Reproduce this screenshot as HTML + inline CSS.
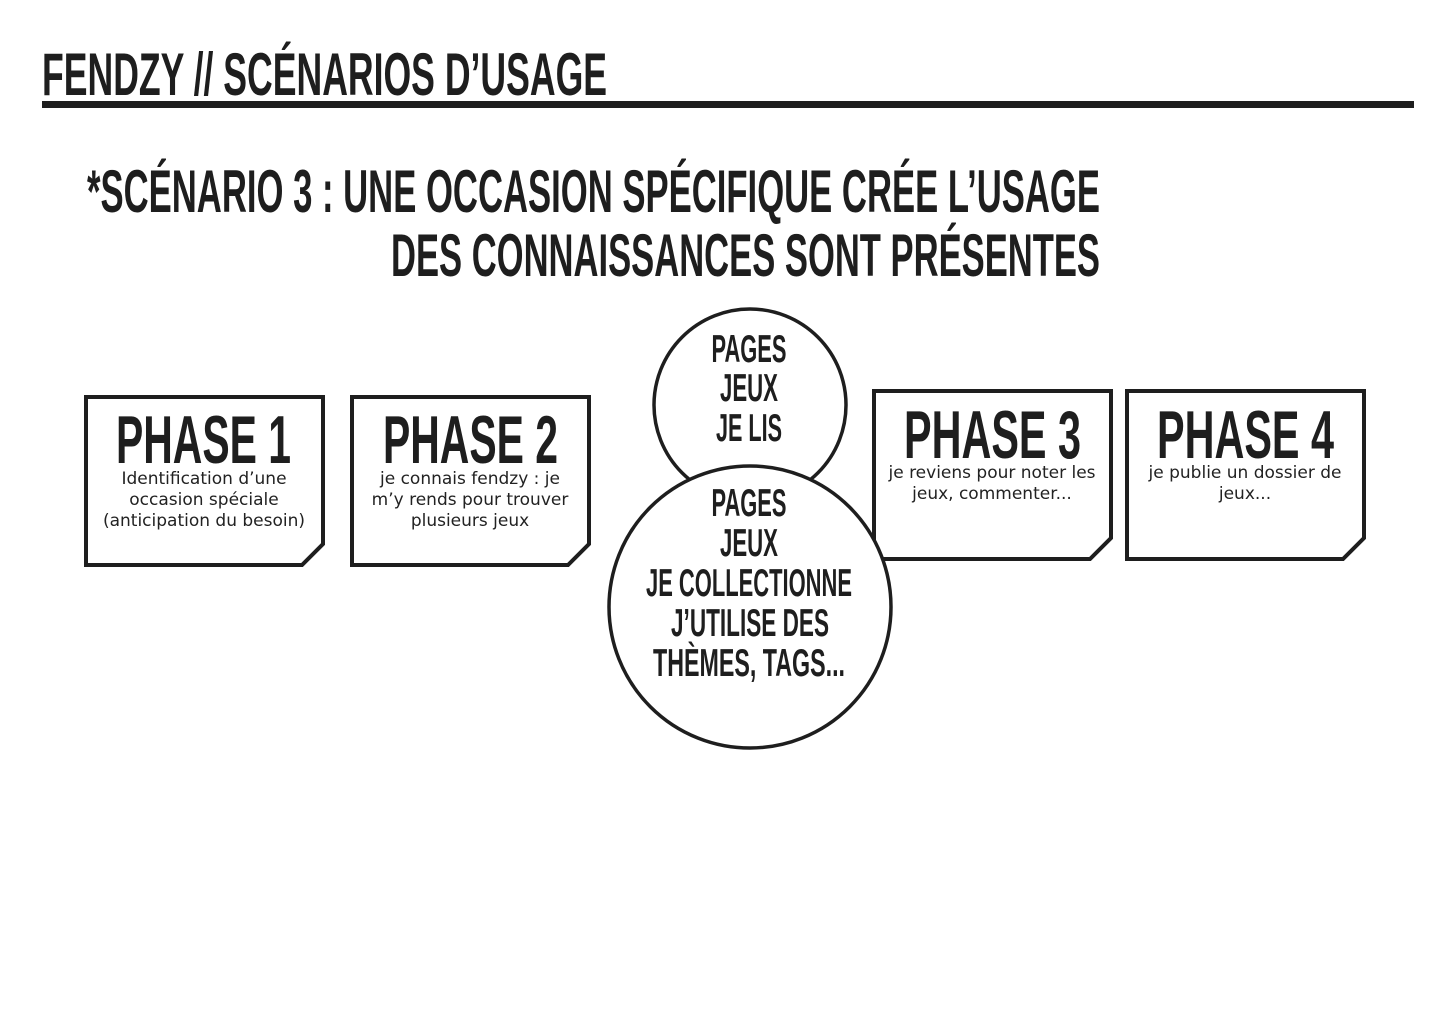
<!DOCTYPE html>
<html><head><meta charset="utf-8"><style>
html,body{margin:0;padding:0;background:#fff;}
svg{display:block}
.c{font-family:"Liberation Sans Narrow","Liberation Sans",sans-serif;font-weight:bold;fill:#1e1e1e;}
.s{font-family:"DejaVu Sans","Liberation Sans",sans-serif;fill:#222;font-size:17px;}
</style></head><body>
<svg width="1440" height="1017" viewBox="0 0 1440 1017" xmlns="http://www.w3.org/2000/svg">
<rect width="1440" height="1017" fill="#fff"/>
<text class="c" x="42" y="95" font-size="60" textLength="565" lengthAdjust="spacingAndGlyphs">FENDZY // SCÉNARIOS D’USAGE</text>
<rect x="42" y="101" width="1372" height="7" fill="#1e1e1e"/>
<text class="c" x="87" y="212" font-size="60" textLength="1013" lengthAdjust="spacingAndGlyphs">*SCÉNARIO 3 : UNE OCCASION SPÉCIFIQUE CRÉE L’USAGE</text>
<text class="c" x="391" y="276" font-size="60" textLength="709" lengthAdjust="spacingAndGlyphs">DES CONNAISSANCES SONT PRÉSENTES</text>

<g fill="#fff" stroke="#1e1e1e" stroke-width="4">
<path d="M86 397 H323 V544 L302 565 H86 Z"/>
<path d="M352 397 H589 V544 L568 565 H352 Z"/>
<path d="M874 391 H1111 V538 L1090 559 H874 Z"/>
<path d="M1127 391 H1364 V538 L1343 559 H1127 Z"/>
<circle cx="750" cy="405" r="96" stroke-width="3.5"/>
<circle cx="750" cy="607" r="141" stroke-width="3.5"/>
</g>

<text class="c" x="116" y="463" font-size="68" textLength="175" lengthAdjust="spacingAndGlyphs">PHASE 1</text>
<text class="c" x="383" y="463" font-size="68" textLength="175" lengthAdjust="spacingAndGlyphs">PHASE 2</text>
<text class="c" x="904" y="458" font-size="68" textLength="177" lengthAdjust="spacingAndGlyphs">PHASE 3</text>
<text class="c" x="1157" y="458" font-size="68" textLength="177" lengthAdjust="spacingAndGlyphs">PHASE 4</text>

<g class="s" text-anchor="middle">
<text x="204" y="484">Identification d’une</text>
<text x="204" y="505">occasion spéciale</text>
<text x="204" y="526">(anticipation du besoin)</text>
<text x="470" y="484">je connais fendzy : je</text>
<text x="470" y="505">m’y rends pour trouver</text>
<text x="470" y="526">plusieurs jeux</text>
<text x="992" y="478">je reviens pour noter les</text>
<text x="992" y="499">jeux, commenter...</text>
<text x="1245" y="478">je publie un dossier de</text>
<text x="1245" y="499">jeux...</text>
</g>

<g class="c" font-size="39" text-anchor="middle">
<text x="749" y="362" textLength="75" lengthAdjust="spacingAndGlyphs">PAGES</text>
<text x="749" y="401" textLength="58" lengthAdjust="spacingAndGlyphs">JEUX</text>
<text x="749" y="441" textLength="66" lengthAdjust="spacingAndGlyphs">JE LIS</text>
<text x="749" y="516" textLength="75" lengthAdjust="spacingAndGlyphs">PAGES</text>
<text x="749" y="556" textLength="58" lengthAdjust="spacingAndGlyphs">JEUX</text>
<text x="749" y="596" textLength="206" lengthAdjust="spacingAndGlyphs">JE COLLECTIONNE</text>
<text x="750" y="636" textLength="158" lengthAdjust="spacingAndGlyphs">J’UTILISE DES</text>
<text x="749" y="676" textLength="192" lengthAdjust="spacingAndGlyphs">THÈMES, TAGS...</text>
</g>
</svg>
</body></html>
